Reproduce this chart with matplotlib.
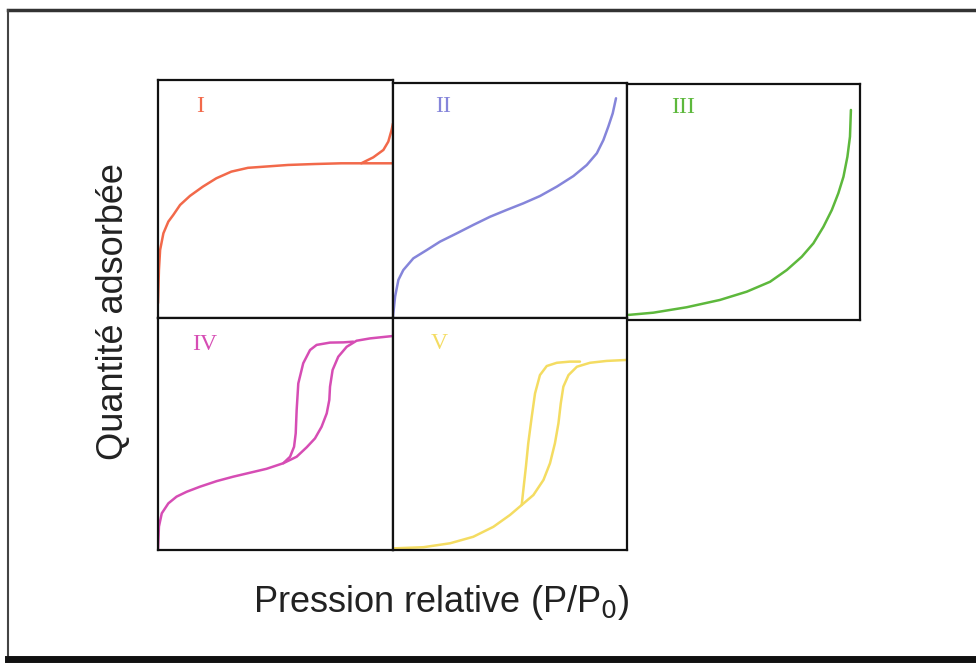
import matplotlib
matplotlib.use("Agg")
import matplotlib.pyplot as plt
from matplotlib.lines import Line2D

# --- data (fractions of each panel) ---
type1_x = [0.0, 0.004, 0.009, 0.023, 0.044, 0.065, 0.094, 0.136, 0.191, 0.248, 0.312,
           0.383, 0.454, 0.553, 0.667, 0.780, 0.865, 1.0]
type1_y = [0.062, 0.202, 0.286, 0.356, 0.405, 0.433, 0.475, 0.513, 0.552, 0.587, 0.615,
           0.631, 0.636, 0.643, 0.647, 0.650, 0.650, 0.650]
type1_des_x = [0.865, 0.916, 0.959, 0.980, 0.994, 1.0]
type1_des_y = [0.650, 0.675, 0.706, 0.741, 0.790, 0.818]

type2_x = [0.0, 0.009, 0.023, 0.044, 0.087, 0.144, 0.201, 0.272, 0.343, 0.415, 0.486,
           0.557, 0.628, 0.700, 0.771, 0.828, 0.871, 0.899, 0.920, 0.939, 0.953]
type2_y = [0.006, 0.091, 0.162, 0.204, 0.254, 0.289, 0.325, 0.360, 0.396, 0.431, 0.460,
           0.488, 0.519, 0.559, 0.604, 0.651, 0.701, 0.757, 0.814, 0.871, 0.935]

type3_x = [0.0, 0.113, 0.256, 0.399, 0.514, 0.614, 0.686, 0.750, 0.800, 0.843, 0.879,
           0.907, 0.929, 0.946, 0.957, 0.961]
type3_y = [0.021, 0.031, 0.054, 0.085, 0.120, 0.162, 0.212, 0.268, 0.325, 0.395, 0.466,
           0.537, 0.607, 0.692, 0.777, 0.890]

type4_x = [0.0, 0.004, 0.016, 0.044, 0.079, 0.122, 0.179, 0.250, 0.320, 0.391, 0.462,
           0.533, 0.590, 0.633, 0.668, 0.696, 0.718, 0.729, 0.732, 0.743, 0.767, 0.803,
           0.845, 0.902, 0.996]
type4_y = [0.0, 0.101, 0.158, 0.201, 0.230, 0.251, 0.273, 0.297, 0.316, 0.333, 0.350,
           0.374, 0.402, 0.443, 0.481, 0.531, 0.589, 0.647, 0.704, 0.776, 0.833, 0.876,
           0.902, 0.912, 0.922]
type4_des_x = [0.533, 0.562, 0.579, 0.586, 0.590, 0.597, 0.618, 0.647, 0.675, 0.732, 0.789, 0.831]
type4_des_y = [0.374, 0.402, 0.445, 0.503, 0.603, 0.718, 0.805, 0.862, 0.884, 0.894, 0.895, 0.898]

type5_x = [0.0, 0.130, 0.244, 0.343, 0.429, 0.500, 0.550, 0.600, 0.643, 0.671, 0.692,
           0.707, 0.717, 0.728, 0.750, 0.786, 0.842, 0.913, 0.996]
type5_y = [0.007, 0.012, 0.029, 0.057, 0.100, 0.151, 0.194, 0.237, 0.302, 0.374, 0.460,
           0.546, 0.632, 0.704, 0.754, 0.790, 0.807, 0.815, 0.819]
type5_des_x = [0.550, 0.557, 0.568, 0.578, 0.593, 0.607, 0.628, 0.657, 0.700, 0.756, 0.799]
type5_des_y = [0.194, 0.259, 0.359, 0.460, 0.575, 0.675, 0.754, 0.793, 0.807, 0.812, 0.812]

labels = ["I", "II", "III", "IV", "V"]
colors = ["#f2694a", "#8585da", "#5db83c", "#d64db4", "#f4dc62"]

W, H = 976, 666
fig = plt.figure(figsize=(W / 100, H / 100), dpi=100)

def box(x0, x1, y0, y1):
    # pixel box -> figure fraction
    return [x0 / W, 1 - y1 / H, (x1 - x0) / W, (y1 - y0) / H]

boxes = [box(158, 393, 80, 318), box(393, 627, 83, 318), box(627, 860, 84, 320),
         box(158, 393, 318, 550), box(393, 627, 318, 550)]
label_pos = [(0.18, 0.89), (0.214, 0.90), (0.24, 0.90), (0.20, 0.885), (0.197, 0.89)]

curves = [
    [(type1_x, type1_y), (type1_des_x, type1_des_y)],
    [(type2_x, type2_y)],
    [(type3_x, type3_y)],
    [(type4_x, type4_y), (type4_des_x, type4_des_y)],
    [(type5_x, type5_y), (type5_des_x, type5_des_y)],
]

for i in range(5):
    ax = fig.add_axes(boxes[i])
    for xs, ys in curves[i]:
        ax.plot(xs, ys, color=colors[i], lw=1.8, solid_capstyle="round", solid_joinstyle="round")
    ax.set_xlim(0, 1)
    ax.set_ylim(0, 1)
    ax.set_xticks([])
    ax.set_yticks([])
    for s in ax.spines.values():
        s.set_linewidth(1.6)
        s.set_color("#111111")
    ax.text(label_pos[i][0], label_pos[i][1], labels[i], transform=ax.transAxes,
            color=colors[i], fontsize=17, family="Liberation Serif", ha="center", va="center")

fig.text(113 / W, 1 - 312 / H, "Quantité adsorbée", rotation=90, ha="center", va="center",
         fontsize=26, family="Liberation Sans", color="#222222")
fig.text(441 / W, 1 - 603 / H, "Pression relative (P/P$_0$)", ha="center", va="center",
         fontsize=26, family="Liberation Sans", color="#222222")

# outer frame of the scanned figure
fig.add_artist(Line2D([8 / W, 1], [1 - 10 / H, 1 - 10 / H], color="#333333", lw=2.5))
fig.add_artist(Line2D([8 / W, 8 / W], [1 - 10 / H, 1 - 658 / H], color="#444444", lw=1.5))
fig.add_artist(Line2D([8 / W, 1], [1 - 659 / H, 1 - 659 / H], color="#111111", lw=5))

fig.savefig("out.png", dpi=100)
